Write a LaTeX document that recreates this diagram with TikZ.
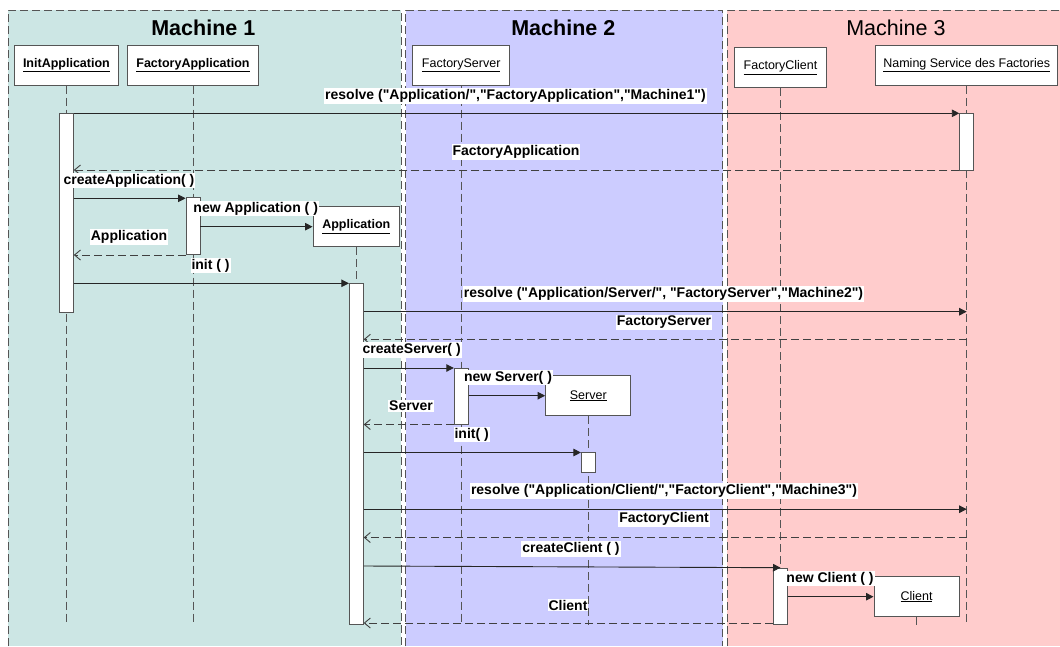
\documentclass[tikz,border=0pt]{standalone}
\usepackage{fontspec}
\setmainfont{Liberation Sans}[Ligatures=TeXOff]
\usetikzlibrary{arrows.meta}
\definecolor{machA}{RGB}{204,230,228}
\definecolor{machB}{RGB}{204,204,255}
\definecolor{machC}{RGB}{255,204,204}
\definecolor{edgegray}{RGB}{85,85,85}
\tikzset{
	zone/.style={draw=edgegray, line width=1pt, dash pattern=on 8pt off 4pt},
	zonetitle/.style={font=\fontsize{21.5}{24}\selectfont},
	lifebox/.style={draw=edgegray, line width=1pt, fill=white, minimum height=40pt, inner sep=0pt, font=\fontsize{12.5}{14}\selectfont},
	actbar/.style={draw=edgegray, line width=0.8pt, fill=white, minimum width=14pt, inner sep=0pt, anchor=north},
	lifeline/.style={draw=edgegray, line width=0.9pt, dash pattern=on 8pt off 4pt},
	callmsg/.style={draw=black!85, line width=0.9pt, -{Triangle[length=7.5pt,width=7.5pt]}},
	retmsg/.style={draw=black!75, line width=0.9pt, dash pattern=on 8pt off 4pt, -{Straight Barb[length=6pt,width=10pt]}},
	lbl/.style={fill=white, inner sep=1pt, font=\fontsize{14}{16}\selectfont\bfseries}
}

\begin{document}
\begin{tikzpicture}[x=1pt,y=-1pt]
				\useasboundingbox (0,0) rectangle (1060,646);
				
				\fill[machA] (8.3,10) rectangle (401,646);
				\draw[zone] (8.3,646) -- (8.3,10) -- (401,10) -- (401,646);
				\fill[machB] (405.5,10) rectangle (722.5,646);
				\draw[zone] (405.5,646) -- (405.5,10) -- (722.5,10) -- (722.5,646);
				\fill[machC] (727,10) rectangle (1060,646);
				\draw[zone] (727,646) -- (727,10) -- (1060,10);
				
				\node[zonetitle, font=\fontsize{21.5}{24}\selectfont\bfseries] (t1) at (203.3,28.3) {Machine 1};
				\node[zonetitle, font=\fontsize{21.5}{24}\selectfont\bfseries] (t2) at (563.3,28.3) {Machine 2};
				\node[zonetitle] (t3) at (895.9,28.3) {Machine 3};
				
				\node[lifebox, minimum width=104.8pt, font=\fontsize{12.5}{14}\selectfont\bfseries] (ia) at (66.4,65.2) {\underline{InitApplication}};
				\node[lifebox, minimum width=131.2pt, font=\fontsize{12.5}{14}\selectfont\bfseries] (fa) at (193,65.2) {\underline{FactoryApplication}};
				\node[lifebox, minimum width=96.6pt] (fs) at (461.2,65.2) {\underline{FactoryServer}};
				\node[lifebox, minimum width=91.3pt] (fc) at (780.5,67.5) {\underline{FactoryClient}};
				\node[lifebox, minimum width=182pt] (ns) at (966.7,65.3) {\underline{Naming Service des Factories}};
				\node[lifebox, minimum width=86.5pt, font=\fontsize{12.5}{14}\selectfont\bfseries] (app) at (356.3,226.7) {\underline{Application}};
				\node[lifebox, minimum width=85.3pt] (srv) at (588.3,395.7) {\underline{Server}};
				\node[lifebox, minimum width=85pt] (cli) at (916.5,596.7) {\underline{Client}};
				
				\draw[lifeline] (ia.south) -- (ia |- 0,625);
				\draw[lifeline] (fa.south) -- (fa |- 0,625);
				\draw[lifeline] (fs.south) -- (fs |- 0,625);
				\draw[lifeline] (fc.south) -- (fc |- 0,625);
				\draw[lifeline] (ns.south) -- (ns |- 0,625);
				\draw[lifeline] (app.south) -- (app |- 0,625);
				\draw[lifeline] (srv.south) -- (srv |- 0,625);
				\draw[lifeline] (cli.south) -- (cli |- 0,625);
				
				\node[actbar, minimum height=198.4pt] (ib) at (66.4,113.3) {};
				\node[actbar, minimum height=56.7pt] (nb) at (966.7,113.3) {};
				\node[actbar, minimum height=57.6pt] (fb) at (193,196.7) {};
				\node[actbar, minimum height=341.6pt] (ab) at (356.3,282.7) {};
				\node[actbar, minimum height=56.6pt] (sb) at (461.2,367.7) {};
				\node[actbar, minimum height=19.4pt] (vb) at (588.3,452.3) {};
				\node[actbar, minimum height=56.6pt] (cb) at (780.5,567.7) {};
				
				\draw[callmsg] (ib.east |- 0,113.3) -- (nb.west |- 0,113.3);
				\draw[retmsg] (nb.west |- 0,170) -- (ib.east |- 0,170);
				\draw[callmsg] (ib.east |- 0,198.3) -- (fb.west |- 0,198.3);
				\draw[callmsg] (fb.east |- 0,226.7) -- (app.west |- 0,226.7);
				\draw[retmsg] (fb.west |- 0,255) -- (ib.east |- 0,255);
				\draw[callmsg] (ib.east |- 0,283.3) -- (ab.west |- 0,283.3);
				\draw[callmsg] (ab.east |- 0,311.7) -- (ns |- 0,311.7);
				\draw[retmsg] (ns |- 0,339.3) -- (ab.east |- 0,339.3);
				\draw[callmsg] (ab.east |- 0,368) -- (sb.west |- 0,368);
				\draw[callmsg] (sb.east |- 0,395.7) -- (srv.west);
				\draw[retmsg] (sb.west |- 0,424.5) -- (ab.east |- 0,424.5);
				\draw[callmsg] (ab.east |- 0,452.5) -- (vb.west |- 0,452.5);
				\draw[callmsg] (ab.east |- 0,509.2) -- (ns |- 0,509.2);
				\draw[retmsg] (ns |- 0,537.5) -- (ab.east |- 0,537.5);
				\draw[callmsg] (ab.east |- 0,566) -- (cb.north);
				\draw[callmsg] (cb.east |- 0,596.7) -- (cli.west);
				\draw[retmsg] (cb.west |- 0,623) -- (ab.east |- 0,623);
				
				\node[lbl] (l1) at (515.5,96) {resolve ("Application/","FactoryApplication","Machine1")};
				\node[lbl] (l2) at (516,152) {FactoryApplication};
				\node[lbl] (l3) at (129,180.5) {createApplication( )};
				\node[lbl] (l4) at (255.7,208.5) {new Application ( )};
				\node[lbl] (l5) at (129,237) {Application};
				\node[lbl] (l6) at (210.6,265.5) {init ( )};
				\node[lbl] (l7) at (663.5,294) {resolve ("Application/Server/", "FactoryServer","Machine2")};
				\node[lbl] (l8) at (664,322.5) {FactoryServer};
				\node[lbl] (l9) at (411.7,350) {createServer( )};
				\node[lbl] (l10) at (508,377.5) {new Server( )};
				\node[lbl] (l11) at (411,406) {Server};
				\node[lbl] (l12) at (471.7,434.5) {init( )};
				\node[lbl] (l13) at (664,491) {resolve ("Application/Client/","FactoryClient","Machine3")};
				\node[lbl] (l14) at (664,519) {FactoryClient};
				\node[lbl] (l15) at (571,549) {createClient ( )};
				\node[lbl] (l16) at (830,578.5) {new Client ( )};
				\node[lbl] (l17) at (568,605) {Client};
\end{tikzpicture}
\end{document}
